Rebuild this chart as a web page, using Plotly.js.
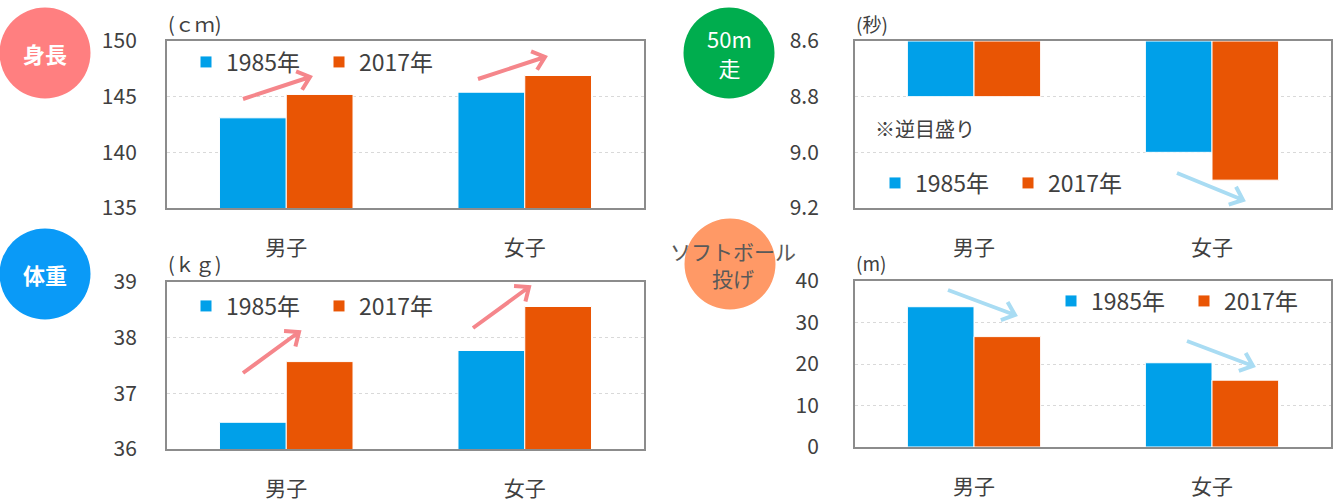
<!DOCTYPE html>
<html>
<head>
<meta charset="utf-8">
<script src="https://cdn.plot.ly/plotly-3.0.1.min.js"></script>
<style>
  html, body { margin: 0; padding: 0; background: #ffffff; }
  #chart { width: 1333px; height: 502px; }
</style>
</head>
<body>
<div id="chart"></div>
<script>
// ---- data ----
const categories = ['男子', '女子'];
const seriesNames = ['1985年', '2017年'];
const height1985 = [143.1, 145.4];
const height2017 = [145.2, 146.9];
const run1985 = [8.8, 9.0];
const run2017 = [8.8, 9.1];
const weight1985 = [36.48, 37.77];
const weight2017 = [37.57, 38.56];
const throw1985 = [33.8, 20.3];
const throw2017 = [26.6, 16.1];
const runBase = 8.6;

const heightTicks = [135, 140, 145, 150];
const runTicks = [8.6, 8.8, 9.0, 9.2];
const weightTicks = [36, 37, 38, 39];
const throwTicks = [0, 10, 20, 30, 40];

// ---- style ----
const W = 1333, H = 502;
const FONT = '"Noto Sans CJK JP", "Noto Sans", sans-serif';
const BLUE = '#00A0E9';
const ORANGE = '#E95504';
const TXT = '#404040';
const PINK_ARROW = '#F5868B';
const BLUE_ARROW = '#A9DCF3';

const px = x => x / W;
const py = y => 1 - y / H;

function barTrace(name, y, color, xa, ya, legend, base) {
  const t = {
    type: 'bar', name: name, x: categories, y: y,
    xaxis: xa, yaxis: ya, legend: legend,
    marker: { color: color, line: { color: '#ffffff', width: 1 } },
    hoverinfo: 'skip'
  };
  if (base !== undefined) t.base = base;
  return t;
}

const data = [
  barTrace(seriesNames[0], height1985, BLUE, 'x', 'y', 'legend'),
  barTrace(seriesNames[1], height2017, ORANGE, 'x', 'y', 'legend'),
  barTrace(seriesNames[0], run1985.map(v => v - runBase), BLUE, 'x2', 'y2', 'legend2', runBase),
  barTrace(seriesNames[1], run2017.map(v => v - runBase), ORANGE, 'x2', 'y2', 'legend2', runBase),
  barTrace(seriesNames[0], weight1985, BLUE, 'x3', 'y3', 'legend3'),
  barTrace(seriesNames[1], weight2017, ORANGE, 'x3', 'y3', 'legend3'),
  barTrace(seriesNames[0], throw1985, BLUE, 'x4', 'y4', 'legend4'),
  barTrace(seriesNames[1], throw2017, ORANGE, 'x4', 'y4', 'legend4')
];

function xAxis(l, r, anchor) {
  return {
    domain: [px(l), px(r)], anchor: anchor, type: 'category',
    showline: true, mirror: true, linecolor: '#8C8C8C', linewidth: 2,
    ticks: '', showgrid: false, zeroline: false, fixedrange: true,
    tickfont: { family: FONT, size: 21, color: TXT },
    ticklabelstandoff: 20
  };
}
function yAxis(t, b, anchor, range, ticks, standoff, fmt) {
  return {
    domain: [py(b), py(t)], anchor: anchor, range: range,
    tickmode: 'array', tickvals: ticks, ticktext: ticks.map(v => fmt ? v.toFixed(1) : String(v)),
    showline: true, mirror: true, linecolor: '#8C8C8C', linewidth: 2,
    showgrid: true, gridcolor: '#D9D9D9', griddash: 'dot', gridwidth: 1,
    zeroline: false, ticks: '', fixedrange: true,
    tickfont: { family: FONT, size: 21, color: TXT },
    ticklabelstandoff: standoff
  };
}

function legendAt(x, y) {
  return {
    orientation: 'h', x: px(x), y: py(y), xanchor: 'left', yanchor: 'middle',
    bgcolor: 'rgba(0,0,0,0)', borderwidth: 0, traceorder: 'normal',
    entrywidthmode: 'pixels', entrywidth: 88, itemclick: false, itemdoubleclick: false,
    font: { family: FONT, size: 23, color: TXT }
  };
}

// decorative arrows (chevron heads)
function arrowPath(x1, y1, x2, y2) {
  const ang = Math.atan2(y2 - y1, x2 - x1);
  const L = 15, a = 40 * Math.PI / 180;
  const hx1 = x2 - L * Math.cos(ang - a), hy1 = y2 - L * Math.sin(ang - a);
  const hx2 = x2 - L * Math.cos(ang + a), hy2 = y2 - L * Math.sin(ang + a);
  const P = (x, y) => px(x).toFixed(5) + ',' + py(y).toFixed(5);
  return 'M' + P(x1, y1) + 'L' + P(x2, y2) + 'M' + P(hx1, hy1) + 'L' + P(x2, y2) + 'L' + P(hx2, hy2);
}
function arrowShape(x1, y1, x2, y2, color) {
  return { type: 'path', xref: 'paper', yref: 'paper', path: arrowPath(x1, y1, x2, y2),
           line: { color: color, width: 4 }, layer: 'above' };
}
function circleShape(cx, cy, r, color) {
  return { type: 'circle', xref: 'paper', yref: 'paper',
           x0: px(cx - r), x1: px(cx + r), y0: py(cy + r), y1: py(cy - r),
           fillcolor: color, line: { width: 0 }, layer: 'below' };
}

const shapes = [
  circleShape(45, 53, 45.5, '#FF7F80'),
  circleShape(45, 274, 45.5, '#0A9AF7'),
  circleShape(729, 53, 45.5, '#00AD4E'),
  circleShape(730, 264, 45.5, '#FF9966'),
  arrowShape(243, 99, 310, 77, PINK_ARROW),
  arrowShape(478, 79, 545, 57, PINK_ARROW),
  arrowShape(243, 373, 299, 332, PINK_ARROW),
  arrowShape(473, 328, 529, 287, PINK_ARROW),
  arrowShape(1177, 173, 1243, 200, BLUE_ARROW),
  arrowShape(948, 290, 1015, 315, BLUE_ARROW),
  arrowShape(1187, 341, 1253, 366, BLUE_ARROW)
];

function txt(text, x, y, size, color, opts) {
  return Object.assign({
    text: text, xref: 'paper', yref: 'paper', x: px(x), y: py(y),
    xanchor: 'center', yanchor: 'middle', showarrow: false,
    font: { family: FONT, size: size, color: color }
  }, opts || {});
}

const annotations = [
  txt('<b>身長</b>', 45, 53, 22, '#ffffff'),
  txt('<b>体重</b>', 45, 274, 22, '#ffffff'),
  txt('50m<br>走', 729, 52, 22, '#ffffff'),
  txt('ソフトボール<br>投げ', 733, 264, 21, '#595959'),
  txt('(ｃｍ)', 166, 24, 20, TXT, { xanchor: 'left' }),
  txt('(ｋｇ)', 166, 263, 20, TXT, { xanchor: 'left' }),
  txt('(秒)', 854, 24, 19, TXT, { xanchor: 'left' }),
  txt('(m)', 854, 262, 19, TXT, { xanchor: 'left' }),
  txt('※逆目盛り', 873, 128, 20, TXT, { xanchor: 'left' })
];

const layout = {
  width: W, height: H,
  margin: { l: 0, r: 0, t: 0, b: 0 },
  paper_bgcolor: '#ffffff', plot_bgcolor: '#ffffff',
  font: { family: FONT, color: TXT },
  barmode: 'group', bargap: 0.44, bargroupgap: 0,
  showlegend: true,
  xaxis: xAxis(167, 644, 'y'),
  yaxis: yAxis(41, 208, 'x', [135, 150], heightTicks, 24, false),
  xaxis2: xAxis(855, 1331, 'y2'),
  yaxis2: yAxis(41, 208, 'x2', [9.2, 8.6], runTicks, 30, true),
  xaxis3: xAxis(167, 644, 'y3'),
  yaxis3: yAxis(282, 449, 'x3', [36, 39], weightTicks, 24, false),
  xaxis4: xAxis(855, 1331, 'y4'),
  yaxis4: yAxis(281, 447, 'x4', [0, 40], throwTicks, 30, false),
  legend: legendAt(186, 62),
  legend2: legendAt(875, 183),
  legend3: legendAt(186, 306),
  legend4: legendAt(1051, 301),
  shapes: shapes,
  annotations: annotations
};

Plotly.newPlot('chart', data, layout, { staticPlot: true, displayModeBar: false });
</script>
</body>
</html>
